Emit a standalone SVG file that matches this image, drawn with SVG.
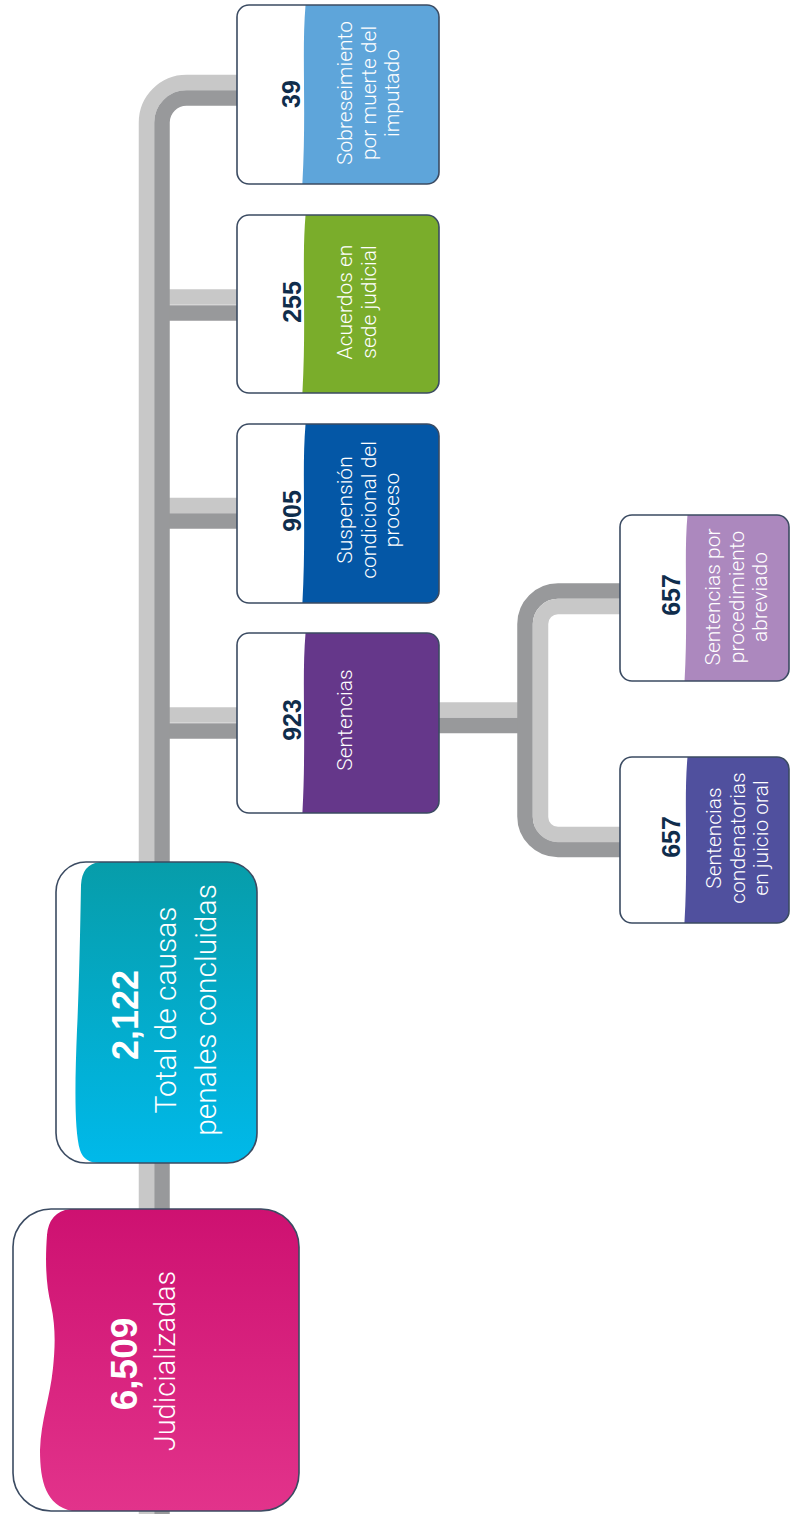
<svg xmlns="http://www.w3.org/2000/svg" width="790" height="1514" viewBox="0 0 790 1514">
<style>
.num{font-family:"Liberation Sans",Arial,sans-serif;font-weight:700;fill:#0f2d4c;text-anchor:middle}
.numw{font-family:"Liberation Sans",Arial,sans-serif;font-weight:700;fill:#ffffff;text-anchor:middle}
.lbl{font-family:Roboto,"Liberation Sans",Arial,sans-serif;font-weight:300;fill:#ffffff;text-anchor:middle}
.box{fill:none;stroke:#3b4b62;stroke-width:1.6}
.lt{fill:none;stroke:#c8c8c8;stroke-width:15.5}
.dk{fill:none;stroke:#98999b;stroke-width:15.5}
</style>
<defs>
<linearGradient id="gTeal" x1="0" y1="0" x2="0" y2="1"><stop offset="0" stop-color="#079ca8"/><stop offset="1" stop-color="#00b9ea"/></linearGradient>
<linearGradient id="gPink" x1="0" y1="0" x2="0" y2="1"><stop offset="0" stop-color="#cd1070"/><stop offset="1" stop-color="#e2338b"/></linearGradient>
<clipPath id="c39"><rect x="237" y="5" width="202" height="179" rx="12"/></clipPath>
<clipPath id="c255"><rect x="237" y="215" width="202" height="178" rx="12"/></clipPath>
<clipPath id="c905"><rect x="237" y="424" width="202" height="179" rx="12"/></clipPath>
<clipPath id="c923"><rect x="237" y="633" width="202" height="180" rx="12"/></clipPath>
<clipPath id="c657a"><rect x="620" y="515" width="169" height="166" rx="12"/></clipPath>
<clipPath id="c657b"><rect x="620" y="757" width="169" height="166" rx="12"/></clipPath>
<clipPath id="c2122"><rect x="56" y="862" width="201" height="301" rx="30"/></clipPath>
<clipPath id="c6509"><rect x="13" y="1209" width="286" height="302" rx="38"/></clipPath>
</defs>

<g id="connectors">
<!-- branches from main trunk -->
<line class="lt" x1="166" y1="297" x2="240" y2="297"/>
<line class="dk" x1="166" y1="313" x2="240" y2="313"/>
<line class="lt" x1="166" y1="505.5" x2="240" y2="505.5"/>
<line class="dk" x1="166" y1="521" x2="240" y2="521"/>
<line class="lt" x1="166" y1="715" x2="240" y2="715"/>
<line class="dk" x1="166" y1="731" x2="240" y2="731"/>
<!-- main trunk -->
<path class="lt" d="M146.5 1514 V122.5 A40 40 0 0 1 186.5 82.5 H240"/>
<path class="dk" d="M162 1514 V122.5 A24.5 24.5 0 0 1 186.5 98 H240"/>
<!-- sub branch from Sentencias -->
<line class="lt" x1="436" y1="710" x2="522" y2="710"/>
<line class="dk" x1="436" y1="725.5" x2="522" y2="725.5"/>
<path class="dk" d="M622 591 H558 A33 33 0 0 0 525 624 V816.5 A33 33 0 0 0 558 849.5 H622"/>
<path class="lt" d="M622 606.5 H558 A17.5 17.5 0 0 0 540.5 624 V817 A17.5 17.5 0 0 0 558 834.5 H622"/>
</g>

<g id="node-39">
<rect x="237" y="5" width="202" height="179" rx="12" fill="#fff"/>
<path clip-path="url(#c39)" fill="#5ea5da" d="M306 0 C301 50 307 110 302 190 L450 190 L450 0 Z"/>
<rect class="box" x="237" y="5" width="202" height="179" rx="12"/>
<text class="num" font-size="25" transform="translate(300,94) rotate(-90)">39</text>
<text class="lbl" font-size="21" transform="translate(352,93) rotate(-90)"><tspan x="0" dy="0">Sobreseimiento</tspan><tspan x="0" dy="23.5">por muerte del</tspan><tspan x="0" dy="23.5">imputado</tspan></text>
</g>

<g id="node-255">
<rect x="237" y="215" width="202" height="178" rx="12" fill="#fff"/>
<path clip-path="url(#c255)" fill="#7aad2b" d="M306 210 C301 260 307 320 302 400 L450 400 L450 210 Z"/>
<rect class="box" x="237" y="215" width="202" height="178" rx="12"/>
<text class="num" font-size="25" transform="translate(301,302) rotate(-90)">255</text>
<text class="lbl" font-size="21" transform="translate(352,302) rotate(-90)"><tspan x="0" dy="0">Acuerdos en</tspan><tspan x="0" dy="24">sede judicial</tspan></text>
</g>

<g id="node-905">
<rect x="237" y="424" width="202" height="179" rx="12" fill="#fff"/>
<path clip-path="url(#c905)" fill="#0457a6" d="M306 419 C301 469 307 529 302 610 L450 610 L450 419 Z"/>
<rect class="box" x="237" y="424" width="202" height="179" rx="12"/>
<text class="num" font-size="25" transform="translate(301,511) rotate(-90)">905</text>
<text class="lbl" font-size="21" transform="translate(352,510) rotate(-90)"><tspan x="0" dy="0">Suspensión</tspan><tspan x="0" dy="23.5">condicional del</tspan><tspan x="0" dy="23.5">proceso</tspan></text>
</g>

<g id="node-923">
<rect x="237" y="633" width="202" height="180" rx="12" fill="#fff"/>
<path clip-path="url(#c923)" fill="#65378a" d="M306 628 C301 678 307 738 302 820 L450 820 L450 628 Z"/>
<rect class="box" x="237" y="633" width="202" height="180" rx="12"/>
<text class="num" font-size="25" transform="translate(301,720) rotate(-90)">923</text>
<text class="lbl" font-size="21" transform="translate(352,720) rotate(-90)">Sentencias</text>
</g>

<g id="node-657-abreviado">
<rect x="620" y="515" width="169" height="166" rx="12" fill="#fff"/>
<path clip-path="url(#c657a)" fill="#ac88be" d="M688 510 C683 555 689 615 684 690 L800 690 L800 510 Z"/>
<rect class="box" x="620" y="515" width="169" height="166" rx="12"/>
<text class="num" font-size="25" transform="translate(680,595) rotate(-90)">657</text>
<text class="lbl" font-size="21" transform="translate(720,597) rotate(-90)"><tspan x="0" dy="0">Sentencias por</tspan><tspan x="0" dy="23.5">procedimiento</tspan><tspan x="0" dy="23.5">abreviado</tspan></text>
</g>

<g id="node-657-juicio">
<rect x="620" y="757" width="169" height="166" rx="12" fill="#fff"/>
<path clip-path="url(#c657b)" fill="#50509e" d="M688 752 C683 797 689 857 684 930 L800 930 L800 752 Z"/>
<rect class="box" x="620" y="757" width="169" height="166" rx="12"/>
<text class="num" font-size="25" transform="translate(680,837) rotate(-90)">657</text>
<text class="lbl" font-size="21" transform="translate(721,838) rotate(-90)"><tspan x="0" dy="0">Sentencias</tspan><tspan x="0" dy="23.5">condenatorias</tspan><tspan x="0" dy="23.5">en juicio oral</tspan></text>
</g>

<g id="node-2122">
<rect x="56" y="862" width="201" height="301" rx="30" fill="#fff"/>
<path clip-path="url(#c2122)" fill="url(#gTeal)" d="M100 862 Q82 864 81 885 C80 940 79 990 77 1030 C75 1080 74 1130 80 1150 Q84 1163 100 1163 L270 1163 L270 855 Z"/>
<rect class="box" x="56" y="862" width="201" height="301" rx="30"/>
<text class="numw" font-size="36" transform="translate(138,1015) rotate(-90)">2,122</text>
<text class="lbl" font-size="30" transform="translate(176,1010) rotate(-90)"><tspan x="0" dy="0">Total de causas</tspan><tspan x="0" dy="40">penales concluidas</tspan></text>
</g>

<g id="node-6509">
<rect x="13" y="1209" width="286" height="302" rx="38" fill="#fff"/>
<path clip-path="url(#c6509)" fill="url(#gPink)" d="M70 1209 Q49 1212 47 1235 C45 1262 46 1285 51 1305 C56 1328 55 1348 53 1368 C50 1398 41 1420 40 1450 C40 1482 46 1505 72 1511 L310 1511 L310 1200 Z"/>
<rect class="box" x="13" y="1209" width="286" height="302" rx="38"/>
<text class="numw" font-size="37" transform="translate(137,1364) rotate(-90)">6,509</text>
<text class="lbl" font-size="29" transform="translate(175,1361) rotate(-90)">Judicializadas</text>
</g>
</svg>
